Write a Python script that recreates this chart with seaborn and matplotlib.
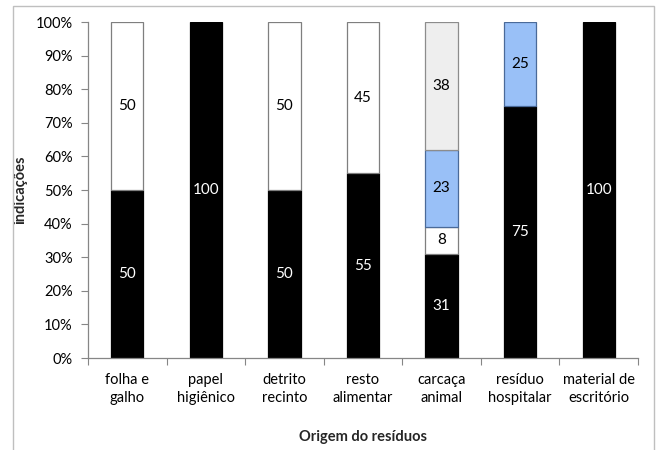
import matplotlib
matplotlib.use("Agg")
import matplotlib.pyplot as plt
import matplotlib.patches as mpatches
from matplotlib.ticker import FixedLocator, PercentFormatter
import numpy as np
import pandas as pd
import seaborn as sns

categories = ["folha e\ngalho", "papel\nhigiênico", "detrito\nrecinto", "resto\nalimentar",
              "carcaça\nanimal", "resíduo\nhospitalar", "material de\nescritório"]
serie_preta = [50, 100, 50, 55, 31, 75, 100]
serie_branca = [50, 0, 50, 45, 8, 0, 0]
serie_azul = [0, 0, 0, 0, 23, 25, 0]
serie_cinza = [0, 0, 0, 0, 38, 0, 0]
y_ticks = [0, 10, 20, 30, 40, 50, 60, 70, 80, 90, 100]

series = [
    (serie_preta, "#000000", "#000000", "white"),
    (serie_branca, "#FFFFFF", "#7F7F7F", "black"),
    (serie_azul, "#99C0F7", "#4A6A99", "black"),
    (serie_cinza, "#EEEEEE", "#8C8C8C", "black"),
]

sns.set_theme(style="white")
plt.rcParams["font.family"] = ["Lato", "DejaVu Sans"]

fig = plt.figure(figsize=(6.57, 4.5), dpi=100)
ax = fig.add_axes([88 / 657, 1 - 358 / 450, 550 / 657, 336 / 450])

bottom = np.zeros(len(categories))
for values, face, edge, txt in series:
    vals = np.array(values, dtype=float)
    mask = vals > 0
    df = pd.DataFrame({"cat": np.array(categories)[mask], "val": vals[mask]})
    sns.barplot(data=df, x="cat", y="val", order=categories, bottom=bottom[mask],
                color=face, saturation=1, edgecolor=edge, linewidth=0.9,
                width=0.41, errorbar=None, ax=ax)
    for i in np.where(mask)[0]:
        ax.text(i, bottom[i] + vals[i] / 2, f"{int(vals[i])}", ha="center", va="center",
                color=txt, fontsize=11)
    bottom = bottom + vals

ax.set_xlim(-0.5, len(categories) - 0.5)
ax.set_ylim(0, 100)
ax.yaxis.set_major_locator(FixedLocator(y_ticks))
ax.yaxis.set_major_formatter(PercentFormatter(decimals=0))
ax.xaxis.set_minor_locator(FixedLocator(np.arange(-0.5, len(categories), 1.0)))
ax.tick_params(axis="x", which="major", length=0, pad=11, labelsize=10.5, colors="#000000")
ax.tick_params(axis="x", which="minor", length=5, width=0.8, color="#868686", bottom=True)
ax.tick_params(axis="y", which="major", length=5, width=0.8, color="#868686", left=True,
               labelsize=10.5, labelcolor="#000000", pad=6)
for lab in ax.get_xticklabels():
    lab.set_linespacing(1.3)

for s in ["top", "right"]:
    ax.spines[s].set_visible(False)
for s in ["left", "bottom"]:
    ax.spines[s].set_color("#868686")
    ax.spines[s].set_linewidth(0.9)

ax.set_xlabel("Origem do resíduos", fontsize=10.5, fontweight="bold", labelpad=18)
ax.set_ylabel("indicações", fontsize=10.5, fontweight="bold", labelpad=6)

# moldura externa do gráfico
fig.patches.append(mpatches.Rectangle((13 / 657, -0.02), 641 / 657, 1.02 - 6 / 450,
                                      transform=fig.transFigure, fill=False,
                                      edgecolor="#BFBFBF", linewidth=1))

fig.savefig("out.png", dpi=100)
